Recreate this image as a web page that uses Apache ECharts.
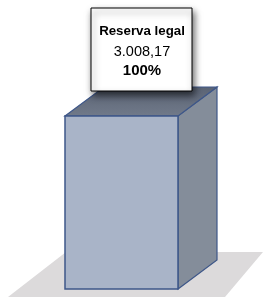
<!DOCTYPE html>
<html>
<head>
<meta charset="utf-8">
<script src="https://cdn.jsdelivr.net/npm/echarts@6/dist/echarts.min.js"></script>
<style>
  html, body { margin: 0; padding: 0; background: #fff; }
  #box3d { width: 263px; height: 297px; }
</style>
</head>
<body>
<div id="box3d"></div>
<script>
var categories = ['Reserva legal'];
var values = [3008.17];
var percents = ['100%'];

// 3.008,17 style
function fmtBR(v) {
  var parts = v.toFixed(2).split('.');
  parts[0] = parts[0].replace(/\B(?=(\d{3})+(?!\d))/g, '.');
  return parts[0] + ',' + parts[1];
}

var depthX = 39, depthY = -29;
var edge = '#3E5789';

var chartDom = document.getElementById('box3d');
var myChart = echarts.init(chartDom);
var option;

function renderBox(params, api) {
  var idx = api.value(0);
  var base = api.coord([idx, 0]);
  var top = api.coord([idx, api.value(1)]);
  var w = api.size([1, 0])[0];
  var x0 = base[0] - w / 2, x1 = base[0] + w / 2;
  var yb = base[1], yt = top[1];
  var cx = base[0] + depthX / 2, backY = yt + depthY;
  var label = '{a|' + categories[idx] + '}\n{b|' + fmtBR(api.value(1)) + '}\n{c|' + percents[idx] + '}';
  return {
    type: 'group',
    children: [
      {
        type: 'polygon',
        shape: { points: [[x0 + 1, yb - 37], [x0 + 198, yb - 37], [x0 + 160, yb + 8], [x0 - 57, yb + 8]] },
        style: { fill: '#DCDADB' }
      },
      {
        type: 'polygon',
        shape: { points: [[x1, yt], [x1 + depthX, yt + depthY], [x1 + depthX, yb + depthY], [x1, yb]] },
        style: { fill: '#848D9A', stroke: edge, lineWidth: 1.2 }
      },
      {
        type: 'polygon',
        shape: { points: [[x0, yt], [x0 + depthX, yt + depthY], [x1 + depthX, yt + depthY], [x1, yt]] },
        style: {
          fill: new echarts.graphic.LinearGradient(0, 0, 0, 1, [
            { offset: 0, color: '#5A6374' },
            { offset: 1, color: '#717A8A' }
          ]),
          stroke: edge, lineWidth: 1.2
        }
      },
      {
        type: 'rect',
        shape: { x: x0, y: yt, width: w, height: yb - yt },
        style: { fill: '#A9B4C8', stroke: edge, lineWidth: 1.5 }
      },
      {
        type: 'rect',
        shape: { x: cx - 50, y: backY - 79, width: 101, height: 83 },
        style: {
          fill: '#fff', stroke: '#000', lineWidth: 1,
          shadowColor: 'rgba(0,0,0,0.6)', shadowBlur: 7, shadowOffsetX: 2, shadowOffsetY: 4
        }
      },
      {
        type: 'text',
        style: {
          x: cx + 1, y: backY - 37,
          text: label,
          align: 'center', verticalAlign: 'middle',
          rich: {
            a: { fontFamily: 'Liberation Sans', fontSize: 13.3, fontWeight: 'bold', color: '#000', lineHeight: 21 },
            b: { fontFamily: 'Liberation Sans', fontSize: 14.5, color: '#404040', lineHeight: 20 },
            c: { fontFamily: 'Liberation Sans', fontSize: 15, fontWeight: 'bold', color: '#000', lineHeight: 18 }
          }
        }
      }
    ]
  };
}

option = {
  animation: false,
  grid: { left: 65, right: 85, top: 116, bottom: 8 },
  xAxis: { type: 'category', data: categories, show: false },
  yAxis: { type: 'value', min: 0, max: values[0], show: false },
  series: [
    {
      type: 'custom',
      renderItem: renderBox,
      clip: false,
      data: values.map(function (v, i) { return [i, v]; })
    }
  ]
};
myChart.setOption(option);
</script>
</body>
</html>
